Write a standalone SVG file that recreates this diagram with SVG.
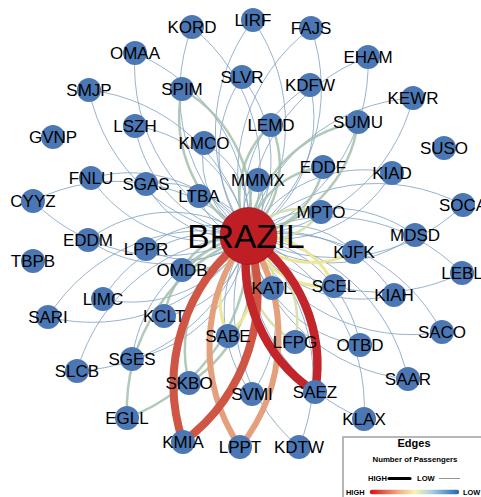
<svg xmlns="http://www.w3.org/2000/svg" width="481" height="497" viewBox="0 0 481 497">
<defs>
<linearGradient id="grad" gradientUnits="userSpaceOnUse" x1="372" y1="0" x2="457" y2="0">
<stop offset="0" stop-color="#d7191c"/>
<stop offset="0.3" stop-color="#f4a582"/>
<stop offset="0.5" stop-color="#f7f4b0"/>
<stop offset="0.7" stop-color="#abd0e0"/>
<stop offset="1" stop-color="#2c6fb0"/>
</linearGradient>
</defs>
<style>
.e{fill:none;stroke:#7ea0c0;stroke-width:1;stroke-opacity:.8}
.g{stroke:#a3c0ad;stroke-width:2.5;stroke-opacity:.85}
.y{stroke:#ece797;stroke-width:3;stroke-opacity:1}
.yg{stroke:#d4dfab;stroke-width:2.5;stroke-opacity:.95}
.t1{stroke:#cf5545;stroke-width:8;stroke-opacity:1}
.t2{stroke:#c2262b;stroke-width:8.5;stroke-opacity:1}
.t3{stroke:#e4a07c;stroke-width:6;stroke-opacity:1}
.n circle{fill:#4b78b4}
.n text{font-family:"Liberation Sans",Arial,sans-serif;font-size:17px;fill:#000;text-anchor:middle}
.lg{font-family:"Liberation Sans",Arial,sans-serif;font-weight:bold;fill:#000}
</style>
<rect width="481" height="497" fill="#fff"/>
<g id="edges">
<path class="e" d="M248 236A184 184 0 0 1 192 27M248 236A184 184 0 0 0 192 27"/>
<path class="e" d="M248 236A184 184 0 0 1 253 20M248 236A184 184 0 0 0 253 20"/>
<path class="e" d="M248 236A184 184 0 0 1 311 28M248 236A184 184 0 0 0 311 28"/>
<path class="e" d="M248 236A184 184 0 0 1 135 53M248 236A184 184 0 0 0 135 53"/>
<path class="e" d="M248 236A183 183 0 0 1 368 57M248 236A183 183 0 0 0 368 57"/>
<path class="e" d="M248 236A135 135 0 0 1 242 77M248 236A135 135 0 0 0 242 77"/>
<path class="e" d="M248 236A139 139 0 0 1 310 85M248 236A139 139 0 0 0 310 85"/>
<path class="e" d="M248 236A184 184 0 0 1 89 90M248 236A184 184 0 0 0 89 90"/>
<path class="e" d="M248 236A182 182 0 0 1 413 98M248 236A182 182 0 0 0 413 98"/>
<path class="e" d="M248 236A134 134 0 0 1 135 126M248 236A134 134 0 0 0 135 126"/>
<path class="e" d="M248 236A88 88 0 0 1 204 143M248 236A88 88 0 0 0 204 143"/>
<path class="e" d="M248 236A133 133 0 0 1 392 173M248 236A133 133 0 0 0 392 173"/>
<path class="e" d="M248 236A143 143 0 0 1 91 178M248 236A143 143 0 0 0 91 178"/>
<path class="e" d="M248 236A98 98 0 0 1 146 184M248 236A98 98 0 0 0 146 184"/>
<path class="e" d="M248 236A48 48 0 0 1 258 180M248 236A48 48 0 0 0 258 180"/>
<path class="e" d="M248 236A54 54 0 0 1 199 196M248 236A54 54 0 0 0 199 196"/>
<path class="e" d="M248 236A186 186 0 0 1 33 201M248 236A186 186 0 0 0 33 201"/>
<path class="e" d="M248 236A184 184 0 0 1 463 205M248 236A184 184 0 0 0 463 205"/>
<path class="e" d="M248 236A141 141 0 0 1 415 235M248 236A141 141 0 0 0 415 235"/>
<path class="e" d="M248 236A137 137 0 0 1 88 240M248 236A137 137 0 0 0 88 240"/>
<path class="e" d="M248 236A88 88 0 0 1 146 249M248 236A88 88 0 0 0 146 249"/>
<path class="e" d="M248 236A90 90 0 0 1 354 252"/>
<path class="e" d="M248 236A184 184 0 0 1 462 273M248 236A184 184 0 0 0 462 273"/>
<path class="e" d="M248 236A133 133 0 0 1 394 295M248 236A133 133 0 0 0 394 295"/>
<path class="e" d="M248 236A135 135 0 0 1 103 299M248 236A135 135 0 0 0 103 299"/>
<path class="e" d="M248 236A184 184 0 0 1 48 317M248 236A184 184 0 0 0 48 317"/>
<path class="e" d="M248 236A99 99 0 0 1 164 316"/>
<path class="e" d="M248 236A184 184 0 0 1 442 332M248 236A184 184 0 0 0 442 332"/>
<path class="e" d="M248 236A133 133 0 0 1 360 345M248 236A133 133 0 0 0 360 345"/>
<path class="e" d="M248 236A145 145 0 0 1 132 359M248 236A145 145 0 0 0 132 359"/>
<path class="e" d="M248 236A186 186 0 0 1 77 371M248 236A186 186 0 0 0 77 371"/>
<path class="e" d="M248 236A182 182 0 0 1 408 379M248 236A182 182 0 0 0 408 379"/>
<path class="e" d="M248 236A134 134 0 0 1 252 394M248 236A134 134 0 0 0 252 394"/>
<path class="e" d="M248 236A184 184 0 0 1 364 419M248 236A184 184 0 0 0 364 419"/>
<path class="e" d="M248 236A184 184 0 0 1 299 447M248 236A184 184 0 0 0 299 447"/>
<path class="e g" d="M248 236A138 138 0 0 1 182 89M248 236A138 138 0 0 0 182 89"/>
<path class="e g" d="M248 236A134 134 0 0 1 358 122M248 236A134 134 0 0 0 358 122"/>
<path class="e g" d="M248 236A96 96 0 0 1 271 125M248 236A96 96 0 0 0 271 125"/>
<path class="e g" d="M248 236A86 86 0 0 1 323 167M248 236A86 86 0 0 0 323 167"/>
<path class="e g" d="M248 236A64 64 0 0 1 182 270M248 236A64 64 0 0 0 182 270"/>
<path class="e g" d="M248 236A99 99 0 0 0 164 316"/>
<path class="e g" d="M248 236A135 135 0 0 1 189 383M248 236A135 135 0 0 0 189 383"/>
<path class="e g" d="M248 236A186 186 0 0 1 127 418M248 236A186 186 0 0 0 127 418"/>
<path class="e yg" d="M248 236A65 65 0 0 1 321 212M248 236A65 65 0 0 0 321 212"/>
<path class="e yg" d="M248 236A48 48 0 0 1 272 288M248 236A48 48 0 0 0 272 288"/>
<path class="e yg" d="M248 236A99 99 0 0 1 295 342M248 236A99 99 0 0 0 295 342"/>
<path class="e y" d="M248 236A90 90 0 0 0 354 252"/>
<path class="e y" d="M248 236A84 84 0 0 1 334 286M248 236A84 84 0 0 0 334 286"/>
<path class="e y" d="M248 236A87 87 0 0 1 228 336M248 236A87 87 0 0 0 228 336"/>
<path class="e t3" d="M248 236A179 179 0 0 1 240 447M248 236A179 179 0 0 0 240 447"/>
<path class="e t1" d="M248 236A184 184 0 0 1 183 442M248 236A184 184 0 0 0 183 442"/>
<path class="e t2" d="M248 236A155 155 0 0 1 315 392M248 236A155 155 0 0 0 315 392"/>
</g>
<g id="n-BRAZIL"><circle cx="248.5" cy="236" r="28.5" fill="#be1e24" stroke="#8a1418" stroke-width="0.6"/><text x="246" y="248" font-family="'Liberation Sans',Arial,sans-serif" font-size="33.5" text-anchor="middle" fill="#000">BRAZIL</text></g>
<g id="n-KORD" class="n"><circle cx="192" cy="27" r="12"/><text x="192" y="33">KORD</text></g>
<g id="n-LIRF" class="n"><circle cx="253" cy="20" r="12"/><text x="253" y="26">LIRF</text></g>
<g id="n-FAJS" class="n"><circle cx="311" cy="28" r="12"/><text x="311" y="34">FAJS</text></g>
<g id="n-OMAA" class="n"><circle cx="135" cy="53" r="12"/><text x="135" y="59">OMAA</text></g>
<g id="n-EHAM" class="n"><circle cx="368" cy="57" r="12"/><text x="368" y="63">EHAM</text></g>
<g id="n-SLVR" class="n"><circle cx="242" cy="77" r="12"/><text x="242" y="83">SLVR</text></g>
<g id="n-KDFW" class="n"><circle cx="310" cy="85" r="12"/><text x="310" y="91">KDFW</text></g>
<g id="n-SMJP" class="n"><circle cx="89" cy="90" r="12"/><text x="89" y="96">SMJP</text></g>
<g id="n-SPIM" class="n"><circle cx="182" cy="89" r="12"/><text x="182" y="95">SPIM</text></g>
<g id="n-KEWR" class="n"><circle cx="413" cy="98" r="12"/><text x="413" y="104">KEWR</text></g>
<g id="n-SUMU" class="n"><circle cx="358" cy="122" r="12"/><text x="358" y="128">SUMU</text></g>
<g id="n-LEMD" class="n"><circle cx="271" cy="125" r="12"/><text x="271" y="131">LEMD</text></g>
<g id="n-LSZH" class="n"><circle cx="135" cy="126" r="12"/><text x="135" y="132">LSZH</text></g>
<g id="n-GVNP" class="n"><circle cx="53" cy="137" r="12"/><text x="53" y="143">GVNP</text></g>
<g id="n-KMCO" class="n"><circle cx="204" cy="143" r="12"/><text x="204" y="149">KMCO</text></g>
<g id="n-SUSO" class="n"><circle cx="444" cy="148" r="12"/><text x="444" y="154">SUSO</text></g>
<g id="n-EDDF" class="n"><circle cx="323" cy="167" r="12"/><text x="323" y="173">EDDF</text></g>
<g id="n-KIAD" class="n"><circle cx="392" cy="173" r="12"/><text x="392" y="179">KIAD</text></g>
<g id="n-FNLU" class="n"><circle cx="91" cy="178" r="12"/><text x="91" y="184">FNLU</text></g>
<g id="n-SGAS" class="n"><circle cx="146" cy="184" r="12"/><text x="146" y="190">SGAS</text></g>
<g id="n-MMMX" class="n"><circle cx="258" cy="180" r="12"/><text x="258" y="186">MMMX</text></g>
<g id="n-LTBA" class="n"><circle cx="199" cy="196" r="12"/><text x="199" y="202">LTBA</text></g>
<g id="n-CYYZ" class="n"><circle cx="33" cy="201" r="12"/><text x="33" y="207">CYYZ</text></g>
<g id="n-SOCA" class="n"><circle cx="463" cy="205" r="12"/><text x="463" y="211">SOCA</text></g>
<g id="n-MPTO" class="n"><circle cx="321" cy="212" r="12"/><text x="321" y="218">MPTO</text></g>
<g id="n-MDSD" class="n"><circle cx="415" cy="235" r="12"/><text x="415" y="241">MDSD</text></g>
<g id="n-EDDM" class="n"><circle cx="88" cy="240" r="12"/><text x="88" y="246">EDDM</text></g>
<g id="n-LPPR" class="n"><circle cx="146" cy="249" r="12"/><text x="146" y="255">LPPR</text></g>
<g id="n-KJFK" class="n"><circle cx="354" cy="252" r="12"/><text x="354" y="258">KJFK</text></g>
<g id="n-TBPB" class="n"><circle cx="33" cy="261" r="12"/><text x="33" y="267">TBPB</text></g>
<g id="n-OMDB" class="n"><circle cx="182" cy="270" r="12"/><text x="182" y="276">OMDB</text></g>
<g id="n-LEBL" class="n"><circle cx="462" cy="273" r="12"/><text x="462" y="279">LEBL</text></g>
<g id="n-KATL" class="n"><circle cx="272" cy="288" r="12"/><text x="272" y="294">KATL</text></g>
<g id="n-SCEL" class="n"><circle cx="334" cy="286" r="12"/><text x="334" y="292">SCEL</text></g>
<g id="n-KIAH" class="n"><circle cx="394" cy="295" r="12"/><text x="394" y="301">KIAH</text></g>
<g id="n-LIMC" class="n"><circle cx="103" cy="299" r="12"/><text x="103" y="305">LIMC</text></g>
<g id="n-SARI" class="n"><circle cx="48" cy="317" r="12"/><text x="48" y="323">SARI</text></g>
<g id="n-KCLT" class="n"><circle cx="164" cy="316" r="12"/><text x="164" y="322">KCLT</text></g>
<g id="n-SACO" class="n"><circle cx="442" cy="332" r="12"/><text x="442" y="338">SACO</text></g>
<g id="n-SABE" class="n"><circle cx="228" cy="336" r="12"/><text x="228" y="342">SABE</text></g>
<g id="n-LFPG" class="n"><circle cx="295" cy="342" r="12"/><text x="295" y="348">LFPG</text></g>
<g id="n-OTBD" class="n"><circle cx="360" cy="345" r="12"/><text x="360" y="351">OTBD</text></g>
<g id="n-SGES" class="n"><circle cx="132" cy="359" r="12"/><text x="132" y="365">SGES</text></g>
<g id="n-SLCB" class="n"><circle cx="77" cy="371" r="12"/><text x="77" y="377">SLCB</text></g>
<g id="n-SAAR" class="n"><circle cx="408" cy="379" r="12"/><text x="408" y="385">SAAR</text></g>
<g id="n-SKBO" class="n"><circle cx="189" cy="383" r="12"/><text x="189" y="389">SKBO</text></g>
<g id="n-SVMI" class="n"><circle cx="252" cy="394" r="12"/><text x="252" y="400">SVMI</text></g>
<g id="n-SAEZ" class="n"><circle cx="315" cy="392" r="12"/><text x="315" y="398">SAEZ</text></g>
<g id="n-EGLL" class="n"><circle cx="127" cy="418" r="12"/><text x="127" y="424">EGLL</text></g>
<g id="n-KLAX" class="n"><circle cx="364" cy="419" r="12"/><text x="364" y="425">KLAX</text></g>
<g id="n-KMIA" class="n"><circle cx="183" cy="442" r="12"/><text x="183" y="448">KMIA</text></g>
<g id="n-LPPT" class="n"><circle cx="240" cy="447" r="12"/><text x="240" y="453">LPPT</text></g>
<g id="n-KDTW" class="n"><circle cx="299" cy="447" r="12"/><text x="299" y="453">KDTW</text></g>
<g id="legend">
<rect x="343" y="437" width="145" height="70" fill="#fff" stroke="#a0a0a0" stroke-width="1.5"/>
<text class="lg" x="414" y="447" font-size="11" text-anchor="middle">Edges</text>
<text class="lg" x="415" y="462" font-size="7.8" text-anchor="middle">Number of Passengers</text>
<text class="lg" x="368" y="481" font-size="7.6">HIGH</text>
<line x1="389" y1="478.5" x2="410" y2="478.5" stroke="#000" stroke-width="3.2" stroke-linecap="round"/>
<text class="lg" x="417" y="481" font-size="7.6">LOW</text>
<line x1="439" y1="478.5" x2="460" y2="478.5" stroke="#777" stroke-width="0.8"/>
<text class="lg" x="346" y="494.5" font-size="7.4">HIGH</text>
<line x1="372" y1="492" x2="457" y2="492" stroke="url(#grad)" stroke-width="4.5" stroke-linecap="round"/>
<text class="lg" x="463" y="494.5" font-size="7.4">LOW</text>
</g>
</svg>
